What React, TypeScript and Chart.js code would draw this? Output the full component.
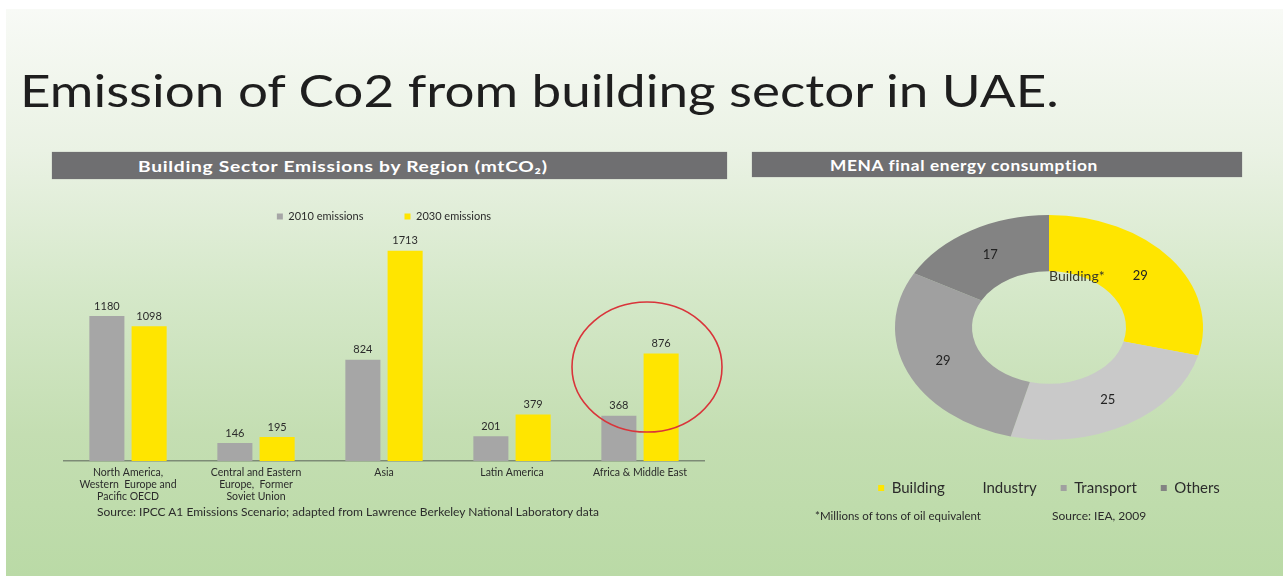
import React, { useEffect, useRef } from "react";
import { Chart, registerables } from "chart.js";

Chart.register(...registerables);

// ---------- data ----------
const TITLE = "Emission of Co2 from building sector in UAE.";

const BAR_TITLE = "Building Sector Emissions by Region (mtCO\u2082)";
const REGIONS: string[][] = [
  ["North America,", "Western  Europe and", "Pacific OECD"],
  ["Central and Eastern", "Europe,  Former", "Soviet Union"],
  ["Asia"],
  ["Latin America"],
  ["Africa & Middle East"],
];
const SERIES_NAMES = ["2010 emissions", "2030 emissions"];
const EMISSIONS_2010 = [1180, 146, 824, 201, 368];
const EMISSIONS_2030 = [1098, 195, 1713, 379, 876];
const BAR_SOURCE =
  "Source: IPCC A1 Emissions Scenario; adapted from Lawrence Berkeley National Laboratory data";
const HIGHLIGHT_INDEX = 4; // Africa & Middle East
const HIGHLIGHT_VALUE = 765; // value level at the centre of the highlight ring

const DONUT_TITLE = "MENA final energy consumption";
const SECTORS = ["Building", "Industry", "Transport", "Others"];
const CONSUMPTION = [29, 25, 29, 17];
const CENTER_TAG = "Building*";
const DONUT_NOTE = "*Millions of tons of oil equivalent";
const DONUT_SOURCE = "Source: IEA, 2009";

// ---------- styles ----------
const FONT = "Lato, 'Open Sans', 'DejaVu Sans', sans-serif";
const GRAY = "#a6a6a6";
const YELLOW = "#ffe500";
const SECTOR_COLORS = ["#ffe500", "#c9c9c9", "#a0a0a0", "#838383"];
const TEXT = "#2b2b2b";

const BAR_BOX = { left: 0, top: 166, width: 740, height: 347 };
const DONUT_BOX = { left: 830, top: 186, width: 438, height: 330 };
const DONUT_CENTER_Y = 327.5; // page y of ellipse centre
const SQUASH = 0.73;
const DONUT_RADIUS = 154;

Chart.defaults.font.family = FONT;

function BarChart() {
  const ref = useRef<HTMLCanvasElement | null>(null);
  useEffect(() => {
    if (!ref.current) return;
    const valueLabels = {
      id: "valueLabels",
      afterDatasetsDraw(chart: any) {
        const ctx = chart.ctx;
        ctx.save();
        ctx.font = `11px ${FONT}`;
        ctx.fillStyle = TEXT;
        ctx.textAlign = "center";
        ctx.textBaseline = "middle";
        chart.data.datasets.forEach((ds: any, di: number) => {
          const meta = chart.getDatasetMeta(di);
          meta.data.forEach((bar: any, i: number) => {
            ctx.fillText(String(ds.data[i]), bar.x, bar.y - 10);
          });
        });
        ctx.restore();
      },
    };
    const ring = {
      id: "ring",
      afterDatasetsDraw(chart: any) {
        const ctx = chart.ctx;
        const xs = chart.scales.x;
        const ys = chart.scales.y;
        const cx = xs.getPixelForValue(HIGHLIGHT_INDEX) + 7;
        const cy = ys.getPixelForValue(HIGHLIGHT_VALUE);
        ctx.save();
        ctx.strokeStyle = "#d9343a";
        ctx.lineWidth = 1.6;
        ctx.beginPath();
        ctx.ellipse(cx, cy, 75, 65, 0, 0, Math.PI * 2);
        ctx.stroke();
        ctx.restore();
      },
    };
    const chart = new Chart(ref.current, {
      type: "bar",
      data: {
        labels: REGIONS,
        datasets: [
          { label: SERIES_NAMES[0], data: EMISSIONS_2010, backgroundColor: GRAY },
          { label: SERIES_NAMES[1], data: EMISSIONS_2030, backgroundColor: YELLOW },
        ],
      },
      options: {
        responsive: true,
        maintainAspectRatio: false,
        animation: false,
        layout: { padding: { left: 64, right: 36, top: 4, bottom: 4 } },
        datasets: { bar: { categoryPercentage: 0.66, barPercentage: 0.83 } },
        scales: {
          x: {
            grid: { display: false, drawTicks: false },
            border: { display: true, color: "#7d8b76", width: 1.5 },
            ticks: {
              color: TEXT,
              font: { size: 10.5, lineHeight: 1.143 },
              padding: 6,
              maxRotation: 0,
              autoSkip: false,
            },
          },
          y: { display: false, min: 0, max: 1865 },
        },
        plugins: {
          legend: {
            labels: {
              boxWidth: 6,
              boxHeight: 6,
              color: TEXT,
              font: { size: 11 },
              padding: 41,
            },
          },
          tooltip: { enabled: false },
        },
      },
      plugins: [valueLabels, ring],
    });
    return () => chart.destroy();
  }, []);
  return (
    <div
      style={{
        position: "absolute",
        left: BAR_BOX.left,
        top: BAR_BOX.top,
        width: BAR_BOX.width,
        height: BAR_BOX.height,
      }}
    >
      <canvas ref={ref} />
    </div>
  );
}

function DonutChart() {
  const ref = useRef<HTMLCanvasElement | null>(null);
  useEffect(() => {
    if (!ref.current) return;
    const targetY = DONUT_CENTER_Y - DONUT_BOX.top;
    const squash = {
      id: "squash",
      beforeDatasetsDraw(chart: any) {
        const arc = chart.getDatasetMeta(0).data[0];
        if (!arc) return;
        const ctx = chart.ctx;
        ctx.save();
        ctx.translate(arc.x, targetY);
        ctx.scale(1, SQUASH);
        ctx.translate(-arc.x, -arc.y);
      },
      afterDatasetsDraw(chart: any) {
        const ctx = chart.ctx;
        ctx.restore();
        const meta = chart.getDatasetMeta(0);
        ctx.save();
        ctx.fillStyle = "#222";
        ctx.font = `13px ${FONT}`;
        ctx.textAlign = "center";
        ctx.textBaseline = "middle";
        meta.data.forEach((el: any, i: number) => {
          const p = el.getProps(
            ["x", "startAngle", "endAngle", "innerRadius", "outerRadius"],
            true
          );
          const mid = (p.startAngle + p.endAngle) / 2;
          const r = (p.innerRadius + p.outerRadius) / 2;
          ctx.fillText(
            String(chart.data.datasets[0].data[i]),
            p.x + Math.cos(mid) * r,
            targetY + Math.sin(mid) * r * SQUASH
          );
        });
        const first = meta.data[0].getProps(["x", "startAngle", "innerRadius"], true);
        ctx.textAlign = "left";
        ctx.fillStyle = "#3a3a2a";
        ctx.font = `14px ${FONT}`;
        ctx.fillText(
          CENTER_TAG,
          first.x + Math.cos(first.startAngle) * first.innerRadius,
          targetY + Math.sin(first.startAngle) * first.innerRadius * SQUASH + 5
        );
        ctx.restore();
      },
    };
    const chart = new Chart(ref.current, {
      type: "doughnut",
      data: {
        labels: SECTORS,
        datasets: [
          {
            data: CONSUMPTION,
            backgroundColor: SECTOR_COLORS,
            borderWidth: 0,
          },
        ],
      },
      options: {
        responsive: true,
        maintainAspectRatio: false,
        animation: false,
        radius: DONUT_RADIUS,
        cutout: "50%",
        layout: { padding: { bottom: 10.5 } },
        plugins: {
          legend: {
            position: "bottom",
            labels: {
              boxWidth: 6,
              boxHeight: 6,
              color: TEXT,
              font: { size: 15 },
              padding: 24,
              generateLabels(chart: any) {
                const base = (Chart as any).overrides.doughnut.plugins.legend.labels.generateLabels(chart);
                return base.map((item: any, i: number) =>
                  i === 1
                    ? { ...item, fillStyle: "rgba(0,0,0,0)", strokeStyle: "rgba(0,0,0,0)", lineWidth: 0 }
                    : { ...item, lineWidth: 0 }
                );
              },
            },
          },
          tooltip: { enabled: false },
        },
      } as any,
      plugins: [squash],
    });
    return () => chart.destroy();
  }, []);
  return (
    <div
      style={{
        position: "absolute",
        left: DONUT_BOX.left,
        top: DONUT_BOX.top,
        width: DONUT_BOX.width,
        height: DONUT_BOX.height,
      }}
    >
      <canvas ref={ref} />
    </div>
  );
}

const headerStyle: React.CSSProperties = {
  position: "absolute",
  background: "#6f6f71",
  color: "#ffffff",
  fontFamily: FONT,
  fontWeight: 700,
  fontSize: 16,
  letterSpacing: 0.6,
  whiteSpace: "nowrap",
  boxShadow: "0 0 1px #999",
};

const stretch = (sx: number): React.CSSProperties => ({
  display: "inline-block",
  transform: `scaleX(${sx})`,
  transformOrigin: "left center",
});

export default function App() {
  return (
    <div
      style={{
        position: "fixed",
        left: 0,
        top: 0,
        width: 1283,
        height: 576,
        background: "#ffffff",
        overflow: "hidden",
        fontFamily: FONT,
      }}
    >
      <div
        style={{
          position: "absolute",
          left: 6,
          top: 9,
          right: 0,
          bottom: 0,
          background:
            "linear-gradient(to bottom, #f8faf6 0%, #eaf2e4 25%, #d5e8c9 50%, #c4deb2 75%, #badaa6 100%)",
        }}
      />
      <div
        style={{
          position: "absolute",
          left: 20,
          top: 68,
          fontSize: 44,
          lineHeight: "44px",
          color: "#1e1e1e",
          whiteSpace: "nowrap",
          fontWeight: 400,
        }}
      >
        <span style={stretch(1.204)}>{TITLE}</span>
      </div>
      <div style={{ ...headerStyle, left: 52, top: 152, width: 675, height: 27, lineHeight: "27px" }}>
        <span style={{ ...stretch(1.2), marginLeft: 86 }}>{BAR_TITLE}</span>
      </div>
      <div style={{ ...headerStyle, left: 752, top: 152, width: 490, height: 25, lineHeight: "25px" }}>
        <span style={{ ...stretch(1.08), marginLeft: 78 }}>{DONUT_TITLE}</span>
      </div>
      <BarChart />
      <DonutChart />
      <div
        style={{
          position: "absolute",
          left: 97,
          top: 504,
          fontSize: 12,
          color: TEXT,
          whiteSpace: "nowrap",
        }}
      >
        {BAR_SOURCE}
      </div>
      <div
        style={{
          position: "absolute",
          left: 815,
          top: 509,
          fontSize: 11.5,
          color: TEXT,
          whiteSpace: "nowrap",
        }}
      >
        {DONUT_NOTE}
      </div>
      <div
        style={{
          position: "absolute",
          left: 1052,
          top: 508,
          fontSize: 12,
          color: TEXT,
          whiteSpace: "nowrap",
        }}
      >
        {DONUT_SOURCE}
      </div>
    </div>
  );
}
